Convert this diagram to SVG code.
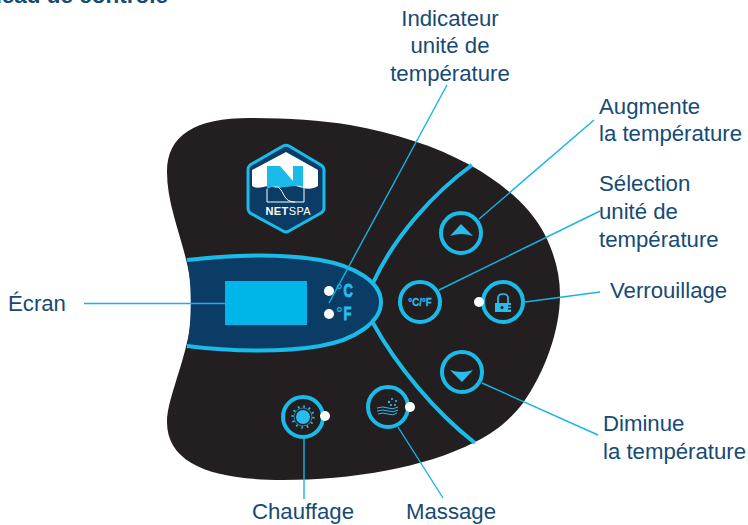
<svg xmlns="http://www.w3.org/2000/svg" width="748" height="525" viewBox="0 0 748 525">
<style>
text{font-family:"Liberation Sans",Arial,sans-serif}
.lbl{font-size:22.2px;fill:#164a76}
.ln{fill:none;stroke:#13b5e5;stroke-width:1.4}
.arc{fill:none;stroke:#1abbe8;stroke-width:4}
.btn{fill:#231f20;stroke:#1abbe8;stroke-width:4}
.dot{fill:#fff}
.ic{fill:#29bdee}
.t{font-weight:700;fill:#29bdee;stroke:#29bdee;stroke-width:.9}
.deg{font-weight:400;fill:#29bdee;font-size:17px}
</style>
<text x="168" y="3" text-anchor="end" font-size="22.5" font-weight="700" fill="#164a76">Panneau de contrôle</text>
<g id="panel">
<path fill="#231f20" d="M250 118C285 118 320 120 350 125C395 133 435 146 470 165C500 182 530 205 545 235C555 255 560 275 560 295C560 330 545 372 523 403C510 420 495 432 475 442C425 468 350 480 283 480C215 480 167 465 167 422C167 395 192 350 192 303C192 255 167 215 167 172C167 135 195 118 250 118Z"/>
<path class="arc" d="M472 165C435 192 395 235 373 283"/>
<path class="arc" d="M475 443C435 412 396 365 373 323"/>
<path d="M187 260C240 254 285 254 320 260C355 266 381 282 381 302C381 322 355 340 320 346C285 352 235 352 187 346C192 320 192 285 187 260Z" fill="#0b3c66"/>
<path class="arc" d="M187 260C240 254 285 254 320 260C355 266 381 282 381 302C381 322 355 340 320 346C285 352 235 352 187 346"/>
<rect x="225" y="281" width="82" height="44" fill="#00b6e9"/>
</g>
<g id="logo">
<path d="M283 146Q286 144.500 289 146L321 165Q324 167 324 170V208Q324 211 321 213L289 231Q286 233 283 231L250 213Q248 211 248 208V170Q248 167 250 165Z" fill="#0b3c66" stroke="#1abbe8" stroke-width="3" stroke-linejoin="round"/>
<path d="M286 152L318 170V186C310 191 304 188 296 186C288 185 279 190 270 186C262 186 258 190 252 186V170Z" fill="#fff"/>
<path d="M267 166H280L293 181V166H303V187C296 184 289 188 281 187C276 186 272 186 267 189Z" fill="#1abbe8"/>
<path d="M267 189V202H304V187M278 187C285 192 283 202 295 202" fill="none" stroke="#fff" stroke-width="1"/>
<text x="265.500" y="215" font-size="11" font-weight="700" fill="#fff" letter-spacing=".4">NET<tspan font-weight="400">SPA</tspan></text>
</g>
<g id="unit-indicator">
<circle class="dot" cx="329" cy="291" r="5"/>
<circle class="dot" cx="329" cy="314" r="5"/>
<text class="deg" x="336" y="296">°</text>
<text class="t" transform="translate(343.500 297) scale(.72 1)" font-size="18">C</text>
<text class="deg" x="336" y="319">°</text>
<text class="t" transform="translate(343.500 320) scale(.72 1)" font-size="18">F</text>
</g>
<g id="btn-up">
<circle class="btn" cx="461" cy="233" r="20"/>
<path class="ic" d="M461 224L473 236Q461 232 450 236Z"/>
</g>
<g id="btn-unit">
<circle class="btn" cx="420" cy="302" r="20"/>
<text class="t" transform="translate(420 306) scale(.85 1)" font-size="11.500" text-anchor="middle" style="stroke-width:.3">°C/°F</text>
</g>
<g id="btn-lock">
<circle class="btn" cx="503" cy="302" r="20"/>
<circle class="dot" cx="479" cy="302" r="5"/>
<path class="ic" d="M495 303H511V305H508V306.500H511V308H508V309.500H511V312H495Z"/>
<path d="M498 303V298Q498 294 503 294Q508 294 508 298V303" fill="none" stroke="#29bdee" stroke-width="1.7"/>
<circle cx="502" cy="307.500" r="1.500" fill="#231f20"/>
</g>
<g id="btn-down">
<circle class="btn" cx="462" cy="372" r="20"/>
<path class="ic" d="M462 382L450 370Q462 374 473 370Z"/>
</g>
<g id="btn-heat">
<circle class="btn" cx="303" cy="417" r="20"/>
<circle class="dot" cx="325" cy="416" r="5"/>
<circle class="ic" cx="303" cy="417" r="7"/>
<circle cx="303" cy="417" r="9" fill="none" stroke="#29bdee" stroke-width=".6"/>
<circle cx="303" cy="417" r="10.500" fill="none" stroke="#29bdee" stroke-width="2.400" stroke-dasharray="1.600 3.900"/>
</g>
<g id="btn-massage">
<circle class="btn" cx="388" cy="407" r="20"/>
<circle class="dot" cx="410" cy="407" r="5"/>
<path d="M377 408Q383 406 388 408T398 407M377 411Q383 409 388 411T398 410M378 414Q383 412 388 414T397 413" fill="none" stroke="#29bdee" stroke-width="1"/>
<circle class="ic" cx="392" cy="399" r="1.100"/><circle class="ic" cx="396" cy="401" r="1.100"/><circle class="ic" cx="389" cy="402" r="1.200"/><circle class="ic" cx="395" cy="405" r="1.100"/><circle class="ic" cx="391" cy="405" r="1.100"/>
</g>
<g id="connectors">
<path class="ln" d="M84 303.500H233"/>
<path class="ln" d="M447 85L329 303"/>
<path class="ln" d="M594 120L479 219"/>
<path class="ln" d="M600 211L439 290"/>
<path class="ln" d="M600 292L525 302"/>
<path class="ln" d="M598 435L482 383"/>
<path class="ln" d="M304 438V499"/>
<path class="ln" d="M398 427L443 498"/>
</g>
<g id="labels">
<text class="lbl" x="450" y="26" text-anchor="middle">Indicateur</text>
<text class="lbl" x="450" y="53" text-anchor="middle">unité de</text>
<text class="lbl" x="450" y="81" text-anchor="middle">température</text>
<text class="lbl" x="599" y="114">Augmente</text>
<text class="lbl" x="599" y="141">la température</text>
<text class="lbl" x="599" y="191">Sélection</text>
<text class="lbl" x="599" y="219">unité de</text>
<text class="lbl" x="599" y="247">température</text>
<text class="lbl" x="610" y="298">Verrouillage</text>
<text class="lbl" x="603" y="431">Diminue</text>
<text class="lbl" x="603" y="459">la température</text>
<text class="lbl" x="8" y="311">Écran</text>
<text class="lbl" x="252" y="519">Chauffage</text>
<text class="lbl" x="406" y="519">Massage</text>
</g>
</svg>
